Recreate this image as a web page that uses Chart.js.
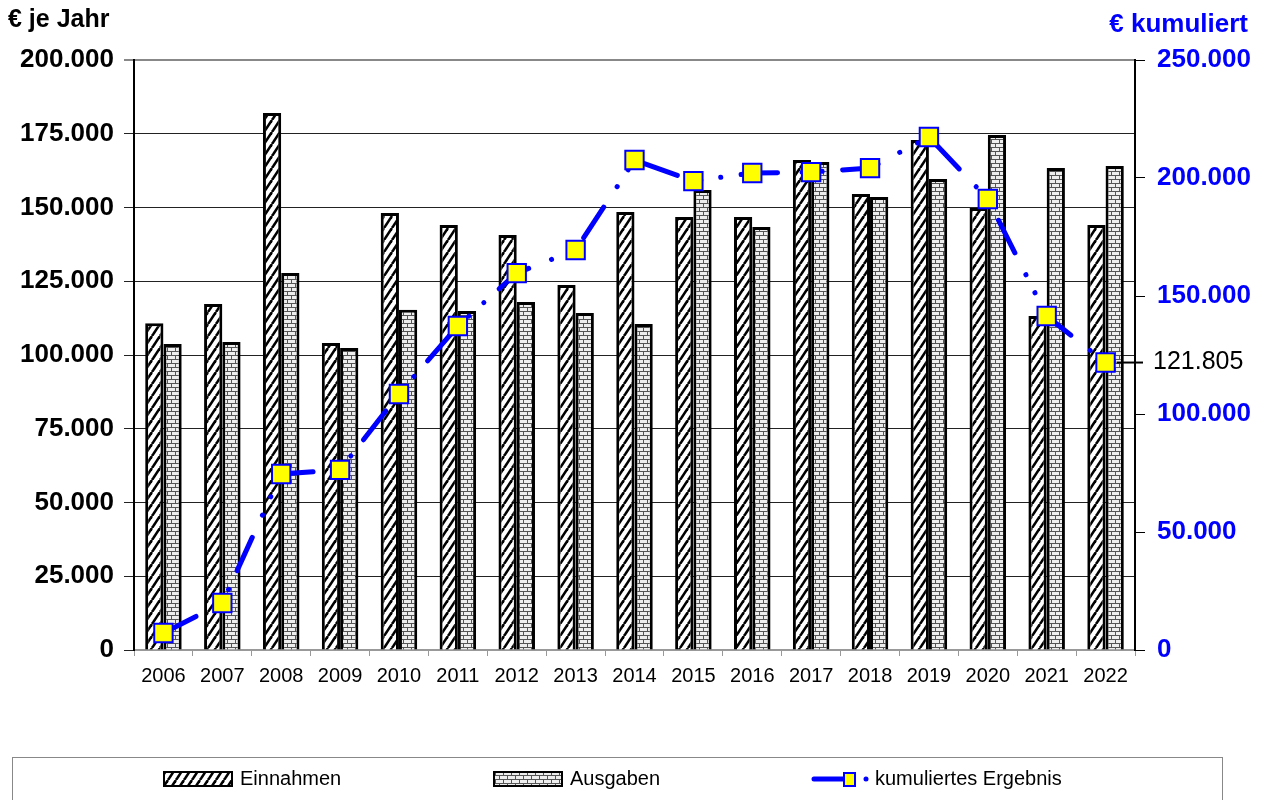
<!DOCTYPE html>
<html>
<head>
<meta charset="utf-8">
<script src="https://cdn.jsdelivr.net/npm/chart.js@4"></script>
<style>
  body { margin: 0; background: #fff; }
  #wrap { width: 1263px; height: 800px; position: relative; }
</style>
</head>
<body>
<div id="wrap"><canvas id="myChart"></canvas></div>
<script>
// Werte
const years = ['2006', '2007', '2008', '2009', '2010', '2011', '2012', '2013', '2014', '2015', '2016', '2017', '2018', '2019', '2020', '2021', '2022'];
const einnahmen = [110800, 117300, 182000, 104100, 148100, 144100, 140700, 123700, 148500, 146800, 146800, 166100, 154600, 172900, 149800, 113200, 144100];
const ausgaben = [103700, 104400, 127800, 102400, 115300, 114900, 118000, 114200, 110500, 155900, 143400, 165400, 153600, 159700, 174600, 163400, 164100];
const kumuliert = [7200, 19900, 74600, 76300, 108500, 137300, 159700, 169500, 207600, 198700, 202100, 202500, 204200, 217400, 191100, 141500, 121805];

const leftTitle = '€ je Jahr';
const rightTitle = '€ kumuliert';

const fmt = (n) => String(n).replace(/\B(?=(\d{3})+(?!\d))/g, '.');

Chart.defaults.font.family = '"Liberation Sans", Arial, sans-serif';

// Schraffur für Einnahmen
const stripes = (() => {
    const c = document.createElement('canvas');
    c.width = 8; c.height = 12;
    const g = c.getContext('2d');
    g.fillStyle = '#fff';
    g.fillRect(0, 0, 8, 12);
    g.strokeStyle = '#000';
    g.lineWidth = 2.6;
    [[-8, 12], [0, 12], [8, 12]].forEach(([x0, y0]) => {
        g.beginPath();
        g.moveTo(x0, y0);
        g.lineTo(x0 + 8, y0 - 12);
        g.stroke();
    });
    return g.createPattern(c, 'repeat');
})();

// Ziegelmuster für Ausgaben
const bricks = (() => {
    const c = document.createElement('canvas');
    c.width = 8; c.height = 8;
    const g = c.getContext('2d');
    g.fillStyle = '#eeeeee';
    g.fillRect(0, 0, 8, 8);
    g.fillStyle = '#555';
    g.fillRect(0, 3, 8, 1);
    g.fillRect(0, 7, 8, 1);
    g.fillRect(3, 0, 1, 3);
    g.fillRect(7, 4, 1, 3);
    return g.createPattern(c, 'repeat');
})();

const titlesPlugin = {
    id: 'titles',
    afterDraw(chart) {
        const ctx = chart.ctx;
        ctx.save();
        ctx.font = 'bold 25px "Liberation Sans", Arial';
        ctx.textBaseline = 'middle';
        ctx.fillStyle = '#000';
        ctx.textAlign = 'left';
        ctx.fillText(leftTitle, 8, 20);
        ctx.fillStyle = '#0000FF';
        ctx.textAlign = 'right';
        ctx.font = 'bold 26px "Liberation Sans", Arial';
        ctx.fillText(rightTitle, 1248, 25);
        ctx.restore();
    }
};

const lastValuePlugin = {
    id: 'lastValue',
    afterDatasetsDraw(chart) {
        const ctx = chart.ctx;
        const meta = chart.getDatasetMeta(0);
        const i = kumuliert.length - 1;
        const p = meta.data[i];
        const right = chart.scales.y2.left + 8;
        ctx.save();
        ctx.strokeStyle = '#000';
        ctx.lineWidth = 2;
        ctx.beginPath();
        ctx.moveTo(p.x + 11, p.y);
        ctx.lineTo(right, p.y);
        ctx.stroke();
        ctx.font = '25px "Liberation Sans", Arial';
        ctx.fillStyle = '#000';
        ctx.textAlign = 'left';
        ctx.textBaseline = 'middle';
        ctx.fillText(fmt(kumuliert[i]), right + 10, p.y);
        ctx.restore();
    }
};

const legendPlugin = {
    id: 'boxLegend',
    afterDraw(chart) {
        const ctx = chart.ctx;
        const ds = chart.data.datasets;
        const y = 779;
        ctx.save();
        ctx.strokeStyle = '#888';
        ctx.lineWidth = 1;
        ctx.strokeRect(12.5, 757.5, 1210, 60);

        ctx.font = '20px "Liberation Sans", Arial';
        ctx.textBaseline = 'middle';
        ctx.textAlign = 'left';

        // Einnahmen
        ctx.fillStyle = stripes;
        ctx.fillRect(163, 772, 70, 14);
        ctx.strokeStyle = '#000';
        ctx.lineWidth = 2;
        ctx.strokeRect(164, 772, 68, 14);
        ctx.fillStyle = '#000';
        ctx.fillText(ds[1].label, 240, y);

        // Ausgaben
        ctx.fillStyle = bricks;
        ctx.fillRect(493, 772, 70, 14);
        ctx.strokeRect(494, 772, 68, 14);
        ctx.fillStyle = '#000';
        ctx.fillText(ds[2].label, 570, y);

        // kumuliertes Ergebnis
        ctx.strokeStyle = '#0000FF';
        ctx.lineWidth = 5;
        ctx.lineCap = 'round';
        ctx.beginPath();
        ctx.moveTo(814, y);
        ctx.lineTo(845, y);
        ctx.stroke();
        ctx.fillStyle = '#FFFF00';
        ctx.fillRect(844, 773, 11, 13);
        ctx.lineWidth = 2;
        ctx.strokeRect(844, 773, 11, 13);
        ctx.fillStyle = '#0000FF';
        ctx.beginPath();
        ctx.arc(866, y, 2.5, 0, Math.PI * 2);
        ctx.fill();
        ctx.fillStyle = '#000';
        ctx.fillText(ds[0].label, 875, y);
        ctx.restore();
    }
};

const data = {
    labels: years,
    datasets: [{
        type: 'line',
        label: 'kumuliertes Ergebnis',
        data: kumuliert,
        yAxisID: 'y2',
        order: 0,
        borderColor: '#0000FF',
        borderWidth: 5,
        // lang-Strich, Punkt, Punkt
        borderDash: [36.5, 24.5, 0.1, 20, 0.1, 20.5],
        borderCapStyle: 'round',
        tension: 0,
        pointStyle: 'rect',
        pointRadius: 13,
        pointHoverRadius: 13,
        pointBackgroundColor: '#FFFF00',
        pointBorderColor: '#0000FF',
        pointBorderWidth: 2,
    }, {
        type: 'bar',
        label: 'Einnahmen',
        data: einnahmen,
        yAxisID: 'y',
        order: 1,
        backgroundColor: stripes,
        borderColor: '#000',
        borderWidth: 3,
        categoryPercentage: 0.62,
        barPercentage: 1,
    }, {
        type: 'bar',
        label: 'Ausgaben',
        data: ausgaben,
        yAxisID: 'y',
        order: 1,
        backgroundColor: bricks,
        borderColor: '#000',
        borderWidth: 3,
        categoryPercentage: 0.62,
        barPercentage: 1,
    }]
};

const config = {
    data,
    options: {
        responsive: true,
        maintainAspectRatio: false,
        animation: false,
        layout: { padding: { top: 60, bottom: 43, left: 0, right: 0 } },
        plugins: {
            legend: { display: false },
            tooltip: { enabled: false },
        },
        scales: {
            x: {
                grid: { offset: true, drawOnChartArea: false, color: '#999', tickLength: 6 },
                border: { color: '#999', width: 2 },
                ticks: { color: '#000', font: { size: 20 }, padding: 8, maxRotation: 0 },
                afterFit: (s) => { s.height = 107; },
            },
            y: {
                position: 'left',
                min: 0,
                max: 200000,
                ticks: { stepSize: 25000, color: '#000', font: { size: 26, weight: 'bold' }, padding: 10, callback: (v) => fmt(v) },
                grid: { color: (c) => c.tick && c.tick.value === 200000 ? '#888' : '#222', lineWidth: (c) => c.tick && c.tick.value === 200000 ? 2 : 1, tickLength: 10 },
                border: { color: '#000', width: 2 },
                afterFit: (s) => { s.width = 134; },
            },
            y2: {
                position: 'right',
                min: 0,
                max: 250000,
                ticks: { stepSize: 50000, color: '#0000FF', font: { size: 26, weight: 'bold' }, padding: 12, callback: (v) => fmt(v) },
                grid: { drawOnChartArea: false, color: '#000', tickLength: 10 },
                border: { color: '#000', width: 2 },
                afterFit: (s) => { s.width = 128; },
            }
        }
    },
    plugins: [titlesPlugin, lastValuePlugin, legendPlugin]
};

var myChart = new Chart(document.getElementById('myChart'), config);
</script>
</body>
</html>
